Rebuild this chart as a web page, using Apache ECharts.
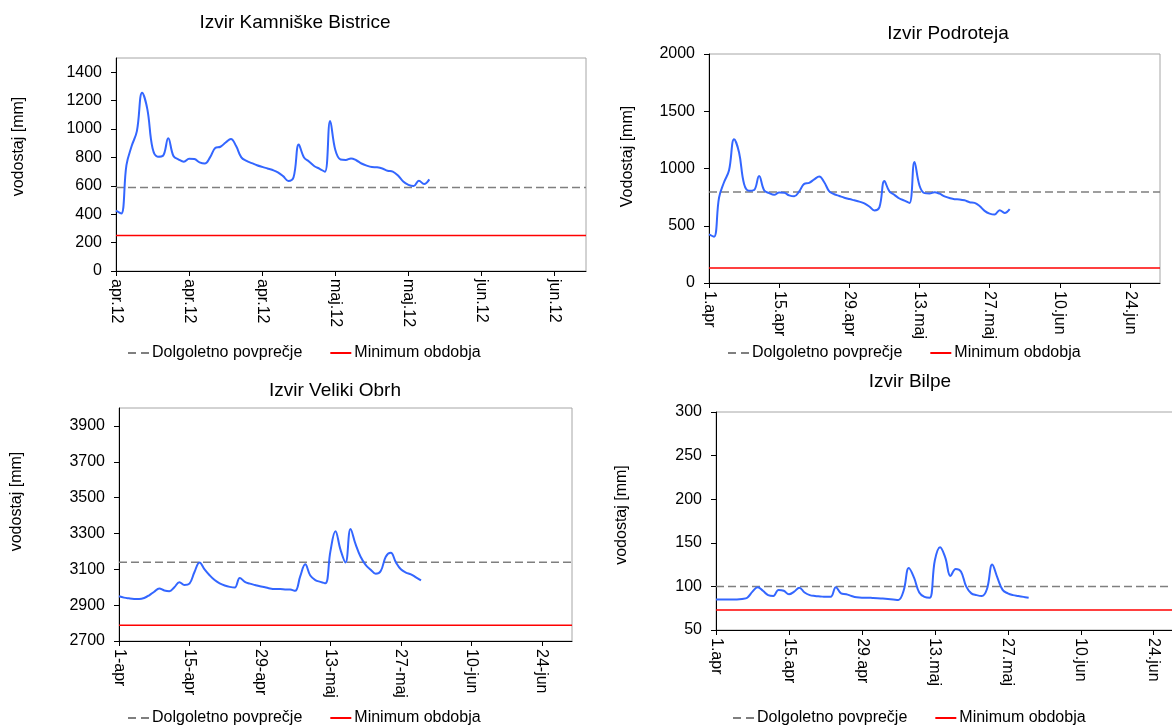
<!DOCTYPE html>
<html>
<head>
<meta charset="utf-8">
<script src="https://cdn.jsdelivr.net/npm/echarts@6/dist/echarts.min.js"></script>
<style>
  html, body { margin: 0; padding: 0; background: #fff; }
  #chart { width: 1172px; height: 725px; }
</style>
</head>
<body>
<div id="chart"></div>
<script>
// ---- data (day index 0 = 1 April) ----
const titles = ['Izvir Kamniške Bistrice', 'Izvir Podroteja', 'Izvir Veliki Obrh', 'Izvir Bilpe'];
const yNames = ['vodostaj [mm]', 'Vodostaj [mm]', 'vodostaj [mm]', 'vodostaj [mm]'];
const legendNames = ['Dolgoletno povprečje', 'Minimum obdobja'];

const tickDays = [0, 14, 28, 42, 56, 70, 84];
const labelsKB = ['apr.12', 'apr.12', 'apr.12', 'maj.12', 'maj.12', 'jun.12', 'jun.12'];
const labelsDot = ['1.apr', '15.apr', '29.apr', '13.maj', '27.maj', '10.jun', '24.jun'];
const labelsDash = ['1-apr', '15-apr', '29-apr', '13-maj', '27-maj', '10-jun', '24-jun'];

const kamniskaBistrica = [425, 405, 745, 880, 985, 1255, 1140, 864, 805, 812, 934, 810, 785, 770, 790, 788, 765, 757, 800, 866,
  875, 905, 930, 880, 800, 775, 760, 745, 733, 722, 711, 695, 668, 634, 660, 890, 800, 770, 738, 720,
  699, 1056, 852, 785, 782, 793, 780, 757, 742, 732, 730, 722, 706, 700, 672, 630, 606, 598, 636, 612, 645];
const podroteja = [425, 405, 745, 880, 985, 1255, 1140, 864, 805, 812, 934, 810, 785, 770, 790, 788, 765, 757, 800, 866,
  875, 905, 930, 880, 800, 775, 760, 745, 733, 722, 711, 695, 668, 634, 660, 890, 800, 770, 738, 720,
  699, 1056, 852, 785, 782, 793, 780, 757, 742, 732, 730, 722, 706, 700, 672, 630, 606, 598, 636, 612, 645];
const velikiObrh = [2950, 2942, 2938, 2935, 2934, 2940, 2955, 2975, 2993, 2982, 2978, 3000, 3028, 3012, 3020, 3085, 3138, 3100, 3067, 3040,
  3022, 3010, 3002, 2998, 3052, 3030, 3020, 3012, 3005, 3000, 2993, 2990, 2990, 2988, 2987, 2980, 3060, 3128, 3065, 3040,
  3030, 3022, 3200, 3312, 3210, 3138, 3325, 3240, 3170, 3125, 3098, 3075, 3090, 3170, 3192, 3140, 3100, 3082, 3072, 3055, 3038];
const bilpe = [85, 85, 85, 85, 85, 85.5, 87, 94, 99, 95, 90, 89, 96, 95, 91, 94, 98.5, 93, 90, 89,
  88.5, 88, 88, 99, 92, 91, 89, 87.5, 87, 87, 86.8, 86.5, 86, 85.5, 85, 84.5, 95, 121, 110, 93,
  88, 87, 130, 145, 133, 112, 120, 117, 100, 92, 90, 89, 97, 125, 110, 96, 92, 90, 89, 88, 87];

const averages = [588, 795, 3140, 100];
const minimums = [250, 130, 2788, 73];

const yMin = [0, 0, 2700, 50];
const yMax = [1500, 2000, 4000, 300];
const yTicks = [
  [0, 200, 400, 600, 800, 1000, 1200, 1400],
  [0, 500, 1000, 1500, 2000],
  [2700, 2900, 3100, 3300, 3500, 3700, 3900],
  [50, 100, 150, 200, 250, 300]
];
const xLabels = [labelsKB, labelsDot, labelsDash, labelsDot];
const values = [kamniskaBistrica, podroteja, velikiObrh, bilpe];
const dayMax = 90; // 30 June

// ---- layout (pixels) ----
const grids = [
  { left: 116, top: 58, width: 470, height: 213 },
  { left: 709, top: 54, width: 451, height: 229 },
  { left: 119, top: 408, width: 453, height: 233 },
  { left: 716, top: 412, width: 469, height: 218 }
];
const titlePos = [
  { x: 295, y: 13 }, { x: 948, y: 24 }, { x: 335, y: 381 }, { x: 910, y: 372 }
];
const nameGaps = [89, 73, 94, 86];
const nameShift = [36, 24, 46, 12];
const legendPos = [
  { left: 128, top: 345 }, { left: 728, top: 345 }, { left: 128, top: 710 }, { left: 733, top: 710 }
];

const FONT = 'Liberation Sans, Arial, sans-serif';
const dashIcon = 'path://M0,0H8V2H0Z M13,0H21V2H13Z';
const option = {
  animation: false,
  backgroundColor: '#ffffff',
  title: titles.map((t, i) => ({
    text: t, left: titlePos[i].x, top: titlePos[i].y, padding: 0, textAlign: 'center',
    textStyle: { fontFamily: FONT, fontSize: 19, fontWeight: 'normal', color: '#000' }
  })),
  legend: legendPos.map(p => ({
    data: [{ name: legendNames[0], icon: dashIcon }, { name: legendNames[1], icon: 'rect' }],
    left: p.left, top: p.top, padding: 0, itemGap: 28,
    itemWidth: 21, itemHeight: 2,
    textStyle: { fontFamily: FONT, fontSize: 16, color: '#000', padding: [0, 0, 0, -2] },
    selectedMode: false
  })),
  grid: grids.map(g => Object.assign({ show: true, borderColor: '#a6a6a6', borderWidth: 1, outerBoundsMode: 'none' }, g)),
  xAxis: grids.map((g, i) => ({
    type: 'value', gridIndex: i, min: 0, max: dayMax,
    splitLine: { show: false },
    axisLine: { show: true, onZero: false, lineStyle: { color: '#000', width: 1 } },
    axisTick: { show: true, inside: false, length: 5, customValues: tickDays, lineStyle: { color: '#000' } },
    axisLabel: {
      show: true, rotate: -90, margin: 8, customValues: tickDays,
      fontFamily: FONT, fontSize: 16, color: '#000',
      formatter: v => { const k = tickDays.indexOf(Math.round(v)); return k >= 0 ? xLabels[i][k] : ''; }
    }
  })),
  yAxis: grids.map((g, i) => ({
    type: 'value', gridIndex: i, min: yMin[i], max: yMax[i],
    name: yNames[i], nameLocation: 'middle', nameGap: nameGaps[i], nameRotate: 90,
    nameTextStyle: { fontFamily: FONT, fontSize: 16, color: '#000', padding: [0, 0, 0, nameShift[i]] },
    splitLine: { show: false },
    axisLine: { show: true, onZero: false, lineStyle: { color: '#000', width: 1 } },
    axisTick: { show: true, inside: false, length: 5, customValues: yTicks[i], lineStyle: { color: '#000' } },
    axisLabel: {
      show: true, margin: 14, customValues: yTicks[i], fontFamily: FONT, fontSize: 16, color: '#000',
      formatter: v => String(v)
    }
  })),
  series: []
};

for (let i = 0; i < 4; i++) {
  option.series.push({
    name: legendNames[0], type: 'line', xAxisIndex: i, yAxisIndex: i,
    data: [[0, averages[i]], [dayMax, averages[i]]],
    symbol: 'none', silent: true,
    lineStyle: { color: '#7f7f7f', width: 1.5, type: [8, 4] },
    itemStyle: { color: '#7f7f7f' }
  });
  option.series.push({
    name: legendNames[1], type: 'line', xAxisIndex: i, yAxisIndex: i,
    data: [[0, minimums[i]], [dayMax, minimums[i]]],
    symbol: 'none', silent: true,
    lineStyle: { color: '#ff0000', width: 1.5 },
    itemStyle: { color: '#ff0000' }
  });
  option.series.push({
    name: 'vodostaj', type: 'line', xAxisIndex: i, yAxisIndex: i,
    data: values[i].map((v, d) => [d, v]),
    symbol: 'none', smooth: 0.4,
    lineStyle: { color: '#3366ff', width: 2 },
    itemStyle: { color: '#3366ff' }
  });
}

const chart = echarts.init(document.getElementById('chart'), null, { renderer: 'canvas' });
chart.setOption(option);
</script>
</body>
</html>
